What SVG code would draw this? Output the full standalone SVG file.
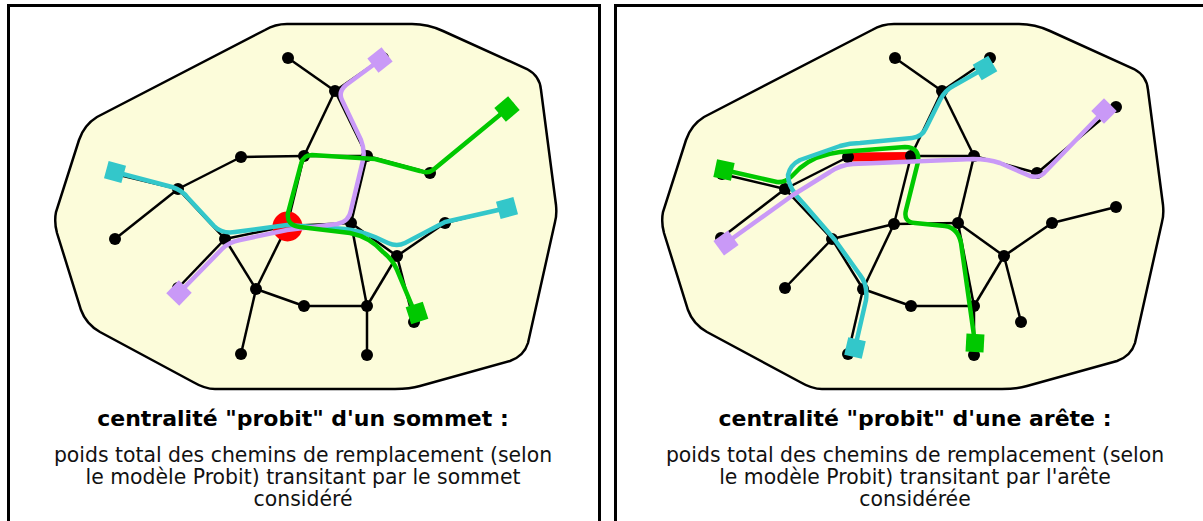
<svg xmlns="http://www.w3.org/2000/svg" width="1203" height="521" viewBox="0 0 1203 521">
<style>
.panel{fill:#ffffff;stroke:#000;stroke-width:3}
.blob{fill:#fcfcda;stroke:#000;stroke-width:2.5}
.e{stroke:#000;stroke-width:2.5;fill:none}
.n{fill:#000}
.r{fill:none;stroke-width:4.5;stroke-linejoin:round;stroke-linecap:round}
.cy{stroke:#33c7ca}.li{stroke:#c999f7}.gr{stroke:#00c800}
.sq-cy{fill:#33c7ca}.sq-li{fill:#c999f7}.sq-gr{fill:#00c800}
.t{font-family:"DejaVu Sans","Liberation Sans",sans-serif;font-size:22px;font-weight:bold;text-anchor:middle;fill:#000}
.b{font-family:"DejaVu Sans","Liberation Sans",sans-serif;font-size:20.4px;text-anchor:middle;fill:#111}
</style>
<defs>
<path id="blobshape" d="M 287,24 L 412,24 Q 428,24 443,31 L 527,69 Q 540,76 541,90 L 556,205 Q 557,215 555,222 L 528,343 Q 524,356 510,361 L 420,386 Q 410,389 395,389 L 215,389 Q 205,389 193,382 L 100,332 Q 86,324 81,310 L 57,233 Q 54,222 56,212 L 79,140 Q 84,125 97,117 L 265,30 Q 275,24 287,24 Z"/>
<rect id="sq" x="-9" y="-9" width="18" height="18"/>
</defs>
<rect width="1203" height="521" fill="#fff"/>
<rect class="panel" x="8.5" y="5.5" width="591" height="530"/>
<rect class="panel" x="615.5" y="5.5" width="600" height="530"/>
<use href="#blobshape" class="blob"/>
<use href="#blobshape" class="blob" transform="translate(607,0)"/>

<g id="connectors">
<g id="left-edges">
<line class="e" x1="288" y1="58" x2="335" y2="91"/>
<line class="e" x1="335" y1="91" x2="383" y2="58"/>
<line class="e" x1="335" y1="91" x2="304" y2="156"/>
<line class="e" x1="335" y1="91" x2="367" y2="156"/>
<line class="e" x1="241" y1="157" x2="304" y2="156"/>
<line class="e" x1="304" y1="156" x2="367" y2="156"/>
<line class="e" x1="367" y1="156" x2="430" y2="173"/>
<line class="e" x1="430" y1="173" x2="509" y2="107"/>
<line class="e" x1="241" y1="157" x2="178" y2="189"/>
<line class="e" x1="178" y1="189" x2="115" y2="174"/>
<line class="e" x1="178" y1="189" x2="115" y2="239"/>
<line class="e" x1="178" y1="189" x2="225" y2="239"/>
<line class="e" x1="304" y1="156" x2="287" y2="226"/>
<line class="e" x1="367" y1="156" x2="351" y2="223"/>
<line class="e" x1="287" y1="226" x2="351" y2="223"/>
<line class="e" x1="225" y1="239" x2="287" y2="226"/>
<line class="e" x1="225" y1="239" x2="178" y2="288"/>
<line class="e" x1="225" y1="239" x2="256" y2="289"/>
<line class="e" x1="287" y1="226" x2="256" y2="289"/>
<line class="e" x1="256" y1="289" x2="241" y2="354"/>
<line class="e" x1="256" y1="289" x2="304" y2="306"/>
<line class="e" x1="304" y1="306" x2="367" y2="306"/>
<line class="e" x1="367" y1="306" x2="367" y2="355"/>
<line class="e" x1="367" y1="306" x2="397" y2="256"/>
<line class="e" x1="351" y1="223" x2="367" y2="306"/>
<line class="e" x1="351" y1="223" x2="397" y2="256"/>
<line class="e" x1="397" y1="256" x2="445" y2="223"/>
<line class="e" x1="445" y1="223" x2="509" y2="207"/>
<line class="e" x1="397" y1="256" x2="414" y2="322"/>
</g>
<g id="right-edges">
<line class="e" x1="895" y1="58" x2="942" y2="91"/>
<line class="e" x1="942" y1="91" x2="990" y2="58"/>
<line class="e" x1="942" y1="91" x2="911" y2="156"/>
<line class="e" x1="942" y1="91" x2="974" y2="156"/>
<line class="e" x1="848" y1="157" x2="911" y2="156"/>
<line class="e" x1="911" y1="156" x2="974" y2="156"/>
<line class="e" x1="974" y1="156" x2="1037" y2="173"/>
<line class="e" x1="1037" y1="173" x2="1116" y2="107"/>
<line class="e" x1="848" y1="157" x2="785" y2="189"/>
<line class="e" x1="785" y1="189" x2="722" y2="174"/>
<line class="e" x1="785" y1="189" x2="721" y2="238"/>
<line class="e" x1="785" y1="189" x2="832" y2="239"/>
<line class="e" x1="911" y1="156" x2="894" y2="224"/>
<line class="e" x1="974" y1="156" x2="958" y2="223"/>
<line class="e" x1="894" y1="224" x2="958" y2="223"/>
<line class="e" x1="832" y1="239" x2="894" y2="224"/>
<line class="e" x1="832" y1="239" x2="785" y2="288"/>
<line class="e" x1="832" y1="239" x2="863" y2="289"/>
<line class="e" x1="894" y1="224" x2="863" y2="289"/>
<line class="e" x1="863" y1="289" x2="848" y2="354"/>
<line class="e" x1="863" y1="289" x2="911" y2="306"/>
<line class="e" x1="911" y1="306" x2="974" y2="306"/>
<line class="e" x1="974" y1="306" x2="974" y2="355"/>
<line class="e" x1="974" y1="306" x2="1004" y2="256"/>
<line class="e" x1="958" y1="223" x2="974" y2="306"/>
<line class="e" x1="958" y1="223" x2="1004" y2="256"/>
<line class="e" x1="1004" y1="256" x2="1052" y2="223"/>
<line class="e" x1="1052" y1="223" x2="1116" y2="207"/>
<line class="e" x1="1004" y1="256" x2="1021" y2="322"/>
</g>
<line id="red-edge" x1="848" y1="157" x2="911" y2="156.5" stroke="#ff0000" stroke-width="9"/>
</g>

<g id="left-nodes">
<g id="L1"><circle class="n" cx="288" cy="58" r="6"/></g>
<g id="L2"><circle class="n" cx="335" cy="91" r="6"/></g>
<g id="L3"><circle class="n" cx="304" cy="156" r="6"/></g>
<g id="L4"><circle class="n" cx="241" cy="157" r="6"/></g>
<g id="L5"><circle class="n" cx="367" cy="156" r="6"/></g>
<g id="L6"><circle class="n" cx="430" cy="173" r="6"/></g>
<g id="L7"><circle class="n" cx="178" cy="189" r="6"/></g>
<g id="L8"><circle class="n" cx="287" cy="226" r="6"/></g>
<g id="L9"><circle class="n" cx="351" cy="223" r="6"/></g>
<g id="L10"><circle class="n" cx="225" cy="239" r="6"/></g>
<g id="L11"><circle class="n" cx="397" cy="256" r="6"/></g>
<g id="L12"><circle class="n" cx="445" cy="223" r="6"/></g>
<g id="L13"><circle class="n" cx="256" cy="289" r="6"/></g>
<g id="L14"><circle class="n" cx="304" cy="306" r="6"/></g>
<g id="L15"><circle class="n" cx="367" cy="306" r="6"/></g>
<g id="L16"><circle class="n" cx="509" cy="207" r="6"/></g>
<g id="L17"><circle class="n" cx="414" cy="322" r="6"/></g>
<g id="L18"><circle class="n" cx="367" cy="355" r="6"/></g>
<g id="L19"><circle class="n" cx="383" cy="58" r="6"/></g>
<g id="L20"><circle class="n" cx="509" cy="107" r="6"/></g>
<g id="L21"><circle class="n" cx="115" cy="174" r="6"/></g>
<g id="L22"><circle class="n" cx="115" cy="239" r="6"/></g>
<g id="L23"><circle class="n" cx="178" cy="288" r="6"/></g>
<g id="L24"><circle class="n" cx="241" cy="354" r="6"/></g>
<g id="L-selected"><circle cx="287.5" cy="226.5" r="15" fill="#ff0000"/></g>
</g>

<g id="right-nodes">
<g id="R1"><circle class="n" cx="895" cy="58" r="6"/></g>
<g id="R2"><circle class="n" cx="942" cy="91" r="6"/></g>
<g id="R3"><circle class="n" cx="911" cy="156" r="6"/></g>
<g id="R4"><circle class="n" cx="848" cy="157" r="6"/></g>
<g id="R5"><circle class="n" cx="974" cy="156" r="6"/></g>
<g id="R6"><circle class="n" cx="1037" cy="173" r="6"/></g>
<g id="R7"><circle class="n" cx="785" cy="189" r="6"/></g>
<g id="R8"><circle class="n" cx="894" cy="224" r="6"/></g>
<g id="R9"><circle class="n" cx="958" cy="223" r="6"/></g>
<g id="R10"><circle class="n" cx="832" cy="239" r="6"/></g>
<g id="R11"><circle class="n" cx="1004" cy="256" r="6"/></g>
<g id="R12"><circle class="n" cx="1052" cy="223" r="6"/></g>
<g id="R13"><circle class="n" cx="863" cy="289" r="6"/></g>
<g id="R14"><circle class="n" cx="911" cy="306" r="6"/></g>
<g id="R15"><circle class="n" cx="974" cy="306" r="6"/></g>
<g id="R16"><circle class="n" cx="1116" cy="207" r="6"/></g>
<g id="R17"><circle class="n" cx="1021" cy="322" r="6"/></g>
<g id="R18"><circle class="n" cx="974" cy="355" r="6"/></g>
<g id="R19"><circle class="n" cx="990" cy="58" r="6"/></g>
<g id="R20"><circle class="n" cx="1116" cy="107" r="6"/></g>
<g id="R21"><circle class="n" cx="722" cy="174" r="6"/></g>
<g id="R22"><circle class="n" cx="721" cy="238" r="6"/></g>
<g id="R23"><circle class="n" cx="785" cy="288" r="6"/></g>
<g id="R24"><circle class="n" cx="848" cy="354" r="6"/></g>
</g>

<g id="routes">
<path class="r cy" d="M 115,172 L 172,187 Q 182,190 188,198 L 214,226 Q 222,234 235,232 L 287,225 L 345,229 Q 360,231 375,237 L 388,243 Q 397,247 405,243 L 445,222 L 507,208"/>
<path class="r li" d="M 179,293 L 222,249 Q 229,242 240,240 L 287,230 L 337,224 Q 349,222 351,210 L 363,160 Q 365,150 361,140 L 342,100 Q 338,92 346,85 L 380,60"/>
<path class="r gr" d="M 507,109 L 433,170 Q 428,174 420,171 L 375,159 L 312,155 Q 303,155 301,164 L 288,213 Q 286,225 300,227 L 350,233 Q 370,237 383,252 Q 393,260 397,270 L 415,313"/>
<path class="r gr" d="M 724,170 L 777,182 Q 785,183 792,176 L 800,168 Q 815,155 840,152 L 905,147 Q 920,147 918,162 L 906,210 Q 903,222 915,223 L 945,226 Q 958,228 961,243 L 975,343"/>
<path class="r cy" d="M 855,348 L 866,300 Q 868,285 860,275 L 835,240 L 803,203 Q 788,188 788,175 Q 790,165 800,160 L 840,146 Q 850,143 860,143 L 912,138 Q 922,137 926,128 L 940,100 Q 945,90 955,85 L 985,68"/>
<path class="r li" d="M 726,243 L 793,195 L 830,172 Q 840,165 853,164 L 973,159 Q 988,159 1000,163 L 1030,176 Q 1040,179 1046,171 L 1104,111"/>
</g>

<g id="endpoints">
<use href="#sq" class="sq-cy" transform="translate(115,172) rotate(15)"/>
<use href="#sq" class="sq-li" transform="translate(380,60) rotate(-38)"/>
<use href="#sq" class="sq-gr" transform="translate(507,109) rotate(-40)"/>
<use href="#sq" class="sq-li" transform="translate(179,293) rotate(44)"/>
<use href="#sq" class="sq-gr" transform="translate(417,313) rotate(-18)"/>
<use href="#sq" class="sq-cy" transform="translate(507,208) rotate(-15)"/>
<use href="#sq" class="sq-gr" transform="translate(724,170) rotate(12)"/>
<use href="#sq" class="sq-cy" transform="translate(985,68) rotate(-30)"/>
<use href="#sq" class="sq-li" transform="translate(1104,111) rotate(-45)"/>
<use href="#sq" class="sq-li" transform="translate(726,243) rotate(-36)"/>
<use href="#sq" class="sq-cy" transform="translate(855,348) rotate(13)"/>
<use href="#sq" class="sq-gr" transform="translate(975,343) rotate(3)"/>
</g>

<g id="captions">
<text class="t" x="303" y="426">centralité "probit" d'un sommet :</text>
<text class="b" x="303" y="462">poids total des chemins de remplacement (selon</text>
<text class="b" x="303" y="484">le modèle Probit) transitant par le sommet</text>
<text class="b" x="303" y="506">considéré</text>
<text class="t" x="915" y="426">centralité "probit" d'une arête :</text>
<text class="b" x="915" y="462">poids total des chemins de remplacement (selon</text>
<text class="b" x="915" y="484">le modèle Probit) transitant par l'arête</text>
<text class="b" x="915" y="506">considérée</text>
</g>
</svg>
